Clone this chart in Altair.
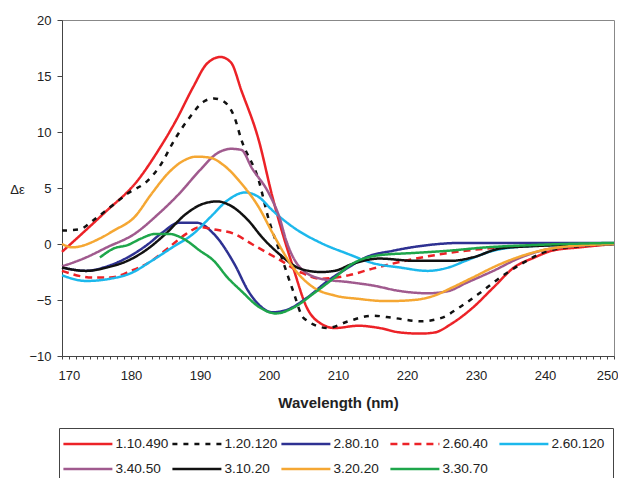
import altair as alt
import pandas as pd

series_names = ["1.10.490", "1.20.120", "2.80.10", "2.60.40", "2.60.120",
                "3.40.50", "3.10.20", "3.20.20", "3.30.70"]
series_colors = ["#EC2227", "#111111", "#2E3192", "#EC2227", "#1CB8EC",
                 "#A05A8E", "#111111", "#F5A733", "#1EA64B"]
series_dash = [[1, 0], [5, 6], [1, 0], [7, 5], [1, 0],
               [1, 0], [1, 0], [1, 0], [1, 0]]

wl_1_10_490 = [170, 176, 181, 184, 186.5, 189, 191, 193, 194.5, 196, 198.5, 200.5, 203.5,
               205.5, 207.5, 209.5, 213, 216, 219, 222, 224, 226.5, 229.5, 232.5, 235.5,
               238.5, 241, 245, 250]
de_1_10_490 = [-0.7, 2.7, 5.7, 8.4, 11.0, 14.0, 16.1, 16.7, 16.2, 13.7, 9.3, 4.2, -2.1,
               -5.7, -7.1, -7.5, -7.3, -7.5, -7.9, -8.0, -7.9, -7.1, -5.7, -3.9, -2.1,
               -1.2, -0.6, -0.3, 0.0]

wl_1_20_120 = [170, 172.5, 174.5, 177, 179.5, 182.5, 184, 186.5, 188.5, 190.5, 192, 193.5,
               195, 196, 198.5, 200, 201.5, 203.5, 205, 208.5, 211.5, 215, 218, 222, 225,
               227.5, 230.5, 233.5, 236.5, 240.5, 245, 250]
de_1_20_120 = [1.2, 1.3, 2.1, 3.3, 4.5, 5.7, 6.8, 9.5, 11.3, 12.7, 13.0, 12.7,
               11.3, 9.3, 5.7, 2.1, -0.6, -4.2, -6.6, -7.5, -6.9, -6.4, -6.6, -6.9, -6.6,
               -5.7, -4.4, -3.0, -1.8, -0.6, -0.2, 0.0]

wl_2_80_10 = [170, 173.5, 176, 179.5, 182.5, 184.5, 187, 189.5, 192, 195, 197, 198.5, 200.5,
              202.5, 205.5, 208.5, 211.5, 214, 218, 223, 228, 235, 240, 245, 250]
de_2_80_10 = [-2.1, -2.4, -2.1, -1.2, 0.0, 1.0, 1.9, 1.9, 0.9, -1.8, -4.2, -5.4, -6.1,
              -5.9, -4.8, -3.3, -2.1, -1.2, -0.6, -0.1, 0.1, 0.1, 0.1, 0.1, 0.1]

wl_2_60_40 = [170, 174.5, 177, 180, 183, 185.5, 188, 190, 192, 195, 197.5, 201.5, 204.5,
              207.5, 211.5, 215, 219, 224, 228.5, 233.5, 240, 250]
de_2_60_40 = [-2.4, -3.0, -3.0, -2.4, -1.5, -0.3, 0.9, 1.5, 1.3, 0.9, 0.0, -1.4, -2.5,
              -3.1, -2.8, -2.2, -1.6, -1.0, -0.6, -0.3, -0.1, 0.0]

wl_2_60_120 = [170, 173.5, 177, 180, 183, 186, 189, 191.5, 194, 196.5, 198.5, 200.5, 203.5,
               207.5, 211.5, 215, 219, 223, 226, 228.5, 232.5, 237.5, 250]
de_2_60_120 = [-2.8, -3.3, -3.1, -2.6, -1.5, -0.3, 0.9, 2.4, 3.9, 4.6, 4.2, 3.0, 1.5,
               0.1, -0.9, -1.7, -2.1, -2.4, -2.1, -1.5, -0.6, -0.2, 0.0]

wl_3_40_50 = [170, 173.5, 176.5, 180.5, 184, 187, 190, 192.5, 194.5, 196, 197.5, 200, 201.5,
              202.5, 204.5, 207.5, 211.5, 215, 219, 223, 226, 228.5, 232.5, 236.5, 241, 250]
de_3_40_50 = [-2.0, -1.2, -0.3, 0.9, 2.7, 4.5, 6.6, 8.1, 8.5, 8.4, 6.8, 4.5, 2.4,
              0.3, -2.1, -3.1, -3.4, -3.7, -4.2, -4.4, -4.2, -3.5, -2.4, -1.2, -0.4, 0.0]

wl_3_10_20 = [170, 173.5, 176.5, 179.5, 182.5, 185, 188, 190.5, 192.5, 194.5, 197, 199,
              201.5, 204.5, 207.5, 209.5, 212, 216, 221, 226.5, 229.5, 233.5, 238, 250]
de_3_10_20 = [-2.1, -2.4, -2.1, -1.5, -0.4, 0.9, 2.7, 3.6, 3.8, 3.4, 2.1, 0.6,
              -0.9, -2.2, -2.5, -2.4, -1.8, -1.3, -1.5, -1.5, -1.2, -0.4, -0.2, 0.0]

wl_3_20_20 = [170, 171.5, 175.5, 177.5, 180.5, 183, 185.5, 187.5, 189.5, 191.5, 193.5, 196,
              198.5, 200.5, 203.5, 206.5, 209.5, 213, 217, 221, 224, 226.5, 229.5, 233.5,
              237.5, 242, 250]
de_3_20_20 = [0.0, -0.3, 0.5, 1.2, 2.4, 4.5, 6.4, 7.4, 7.8, 7.7, 7.0, 5.4,
              3.3, 1.0, -2.1, -3.9, -4.6, -4.9, -5.1, -5.0, -4.6, -3.9, -3.0, -1.8,
              -0.9, -0.3, 0.0]

wl_3_30_70 = [175.5, 177.5, 179.5, 181.5, 183.5, 185.5, 187.5, 190, 192, 194, 196, 198.5,
              201, 203.5, 206.5, 209.5, 212, 216, 221, 226, 231.5, 238, 250]
de_3_30_70 = [-1.2, -0.4, -0.1, 0.5, 0.9, 0.9, 0.5, -0.6, -1.5, -3.0, -4.2, -5.6,
              -6.2, -5.7, -4.4, -3.0, -1.8, -1.0, -0.8, -0.6, -0.3, -0.1, 0.1]

all_wl = [wl_1_10_490, wl_1_20_120, wl_2_80_10, wl_2_60_40, wl_2_60_120,
          wl_3_40_50, wl_3_10_20, wl_3_20_20, wl_3_30_70]
all_de = [de_1_10_490, de_1_20_120, de_2_80_10, de_2_60_40, de_2_60_120,
          de_3_40_50, de_3_10_20, de_3_20_20, de_3_30_70]

x_ticks = list(range(170, 251, 1))
y_ticks = [-10, -5, 0, 5, 10, 15, 20]

rows = []
for order, (name, wls, des) in enumerate(zip(series_names, all_wl, all_de)):
    for w, d in zip(wls, des):
        rows.append({"series": name, "order": order, "wl": w, "de": d})
df = pd.DataFrame(rows)

FONT = "Liberation Sans"

chart = alt.Chart(df).mark_line(strokeWidth=2.5, interpolate="monotone").encode(
    x=alt.X("wl:Q",
            scale=alt.Scale(domain=[170, 250], nice=False, zero=False),
            axis=alt.Axis(values=x_ticks, labelExpr="datum.value % 10 == 0 ? datum.label : ''",
                          labelOverlap=False, labelFlush=True, labelFlushOffset=4,
                          grid=False, ticks=True, tickSize=3, tickWidth=1, labelPadding=10,
                          title="Wavelength (nm)",
                          titleFont=FONT, titleFontSize=15, titleFontWeight="bold",
                          titlePadding=13, titleColor="#222",
                          labelFont=FONT, labelFontSize=13, labelColor="#222",
                          domainColor="#444", tickColor="#444")),
    y=alt.Y("de:Q",
            scale=alt.Scale(domain=[-10, 20], nice=False, zero=False),
            axis=alt.Axis(values=y_ticks, grid=False, ticks=True, tickSize=5, tickWidth=1,
                          labelPadding=6,
                          title="Δε", titleAngle=0, titleX=-45, titleY=169,
                          titleAlign="center", titleBaseline="middle",
                          titleFont=FONT, titleFontSize=13, titleFontWeight="normal",
                          titleColor="#222",
                          labelFont=FONT, labelFontSize=13, labelColor="#222",
                          domainColor="#444", tickColor="#444")),
    color=alt.Color("series:N",
                    scale=alt.Scale(domain=series_names, range=series_colors),
                    sort=series_names,
                    legend=alt.Legend(title=None, orient="none", legendX=-3, legendY=408,
                                      direction="horizontal", columns=5, gridAlign="all",
                                      symbolType="M-4,0H4", symbolSize=150,
                                      symbolStrokeWidth=2.5, symbolOffset=13.4,
                                      labelFont=FONT,
                                      labelFontSize=13.6, labelColor="#222", labelOffset=20,
                                      columnPadding=-2, rowPadding=10.5, padding=8,
                                      strokeColor="#444", fillColor="white")),
    strokeDash=alt.StrokeDash("series:N",
                              scale=alt.Scale(domain=series_names, range=series_dash),
                              sort=series_names, legend=None),
    detail="series:N",
    order=alt.Order("wl:Q"),
).properties(
    width=552, height=336,
    autosize=alt.AutoSizeParams(type="none"),
    padding={"left": 54, "top": 12, "right": 4, "bottom": 122},
).configure_view(stroke="#888", strokeWidth=1)

chart.save("out.html", embed_options={"renderer": "svg", "actions": False})
